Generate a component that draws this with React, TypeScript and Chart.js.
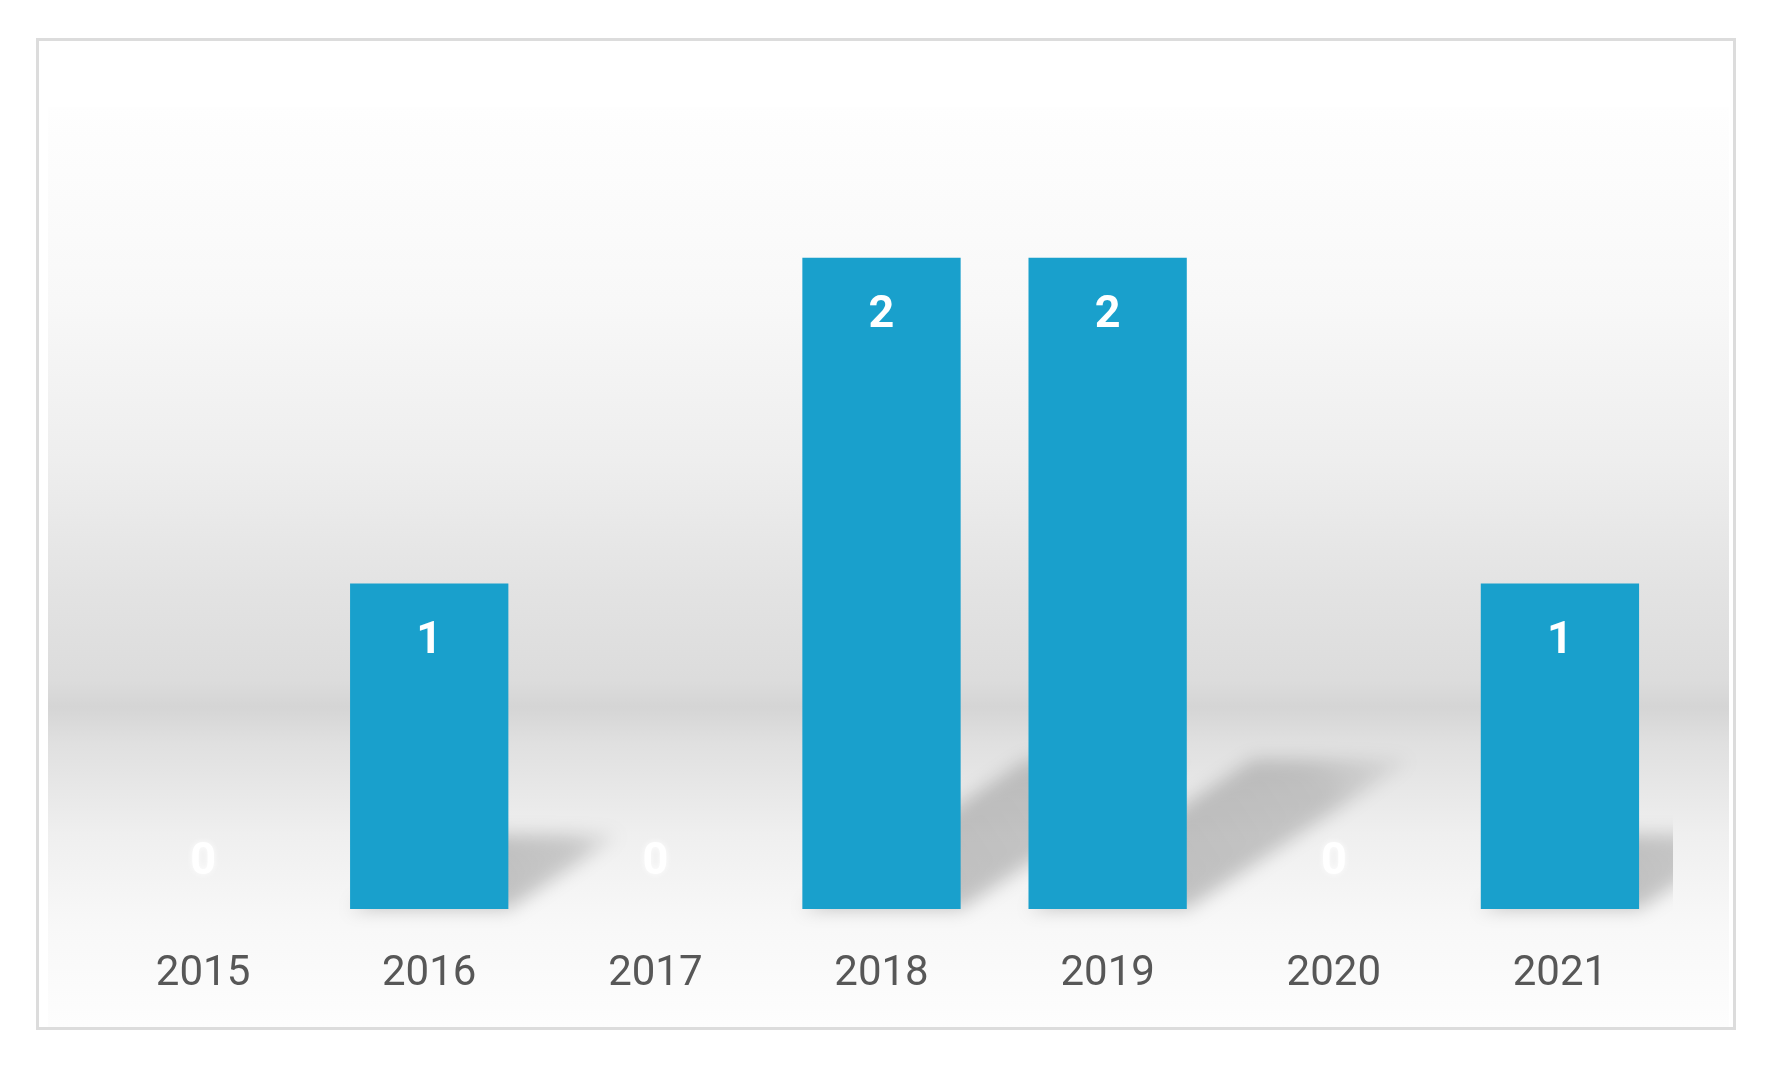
import React, { useEffect, useRef } from "react";
import { Chart, registerables } from "chart.js";

Chart.register(...registerables);

const categories: string[] = ["2015", "2016", "2017", "2018", "2019", "2020", "2021"];
const values: number[] = [0, 1, 0, 2, 2, 0, 1];
const yMin = 0;
const yMax = 2.5;

const BAR_COLOR = "#19a0cc";

const backgroundPlugin = {
  id: "bgGradient",
  beforeDraw(chart: any) {
    const { ctx, width, height } = chart;
    ctx.save();
    ctx.fillStyle = "#ffffff";
    ctx.fillRect(0, 0, width, height);
    const top = 66;
    const bottom = height;
    const g = ctx.createLinearGradient(0, top, 0, bottom);
    g.addColorStop(0, "#fefefe");
    g.addColorStop(0.21, "#f8f8f8");
    g.addColorStop(0.383, "#eeeeee");
    g.addColorStop(0.521, "#e3e3e3");
    g.addColorStop(0.623, "#dcdcdc");
    g.addColorStop(0.652, "#d5d5d5");
    g.addColorStop(0.692, "#e0e0e0");
    g.addColorStop(0.79, "#efefef");
    g.addColorStop(0.89, "#f8f8f8");
    g.addColorStop(1, "#fdfdfd");
    ctx.fillStyle = g;
    ctx.fillRect(9, top, width - 13, bottom - top);
    ctx.restore();
  },
};

const shadowPlugin = {
  id: "barShadows",
  beforeDatasetsDraw(chart: any) {
    const { ctx, chartArea } = chart;
    const meta = chart.getDatasetMeta(0);
    const yScale = chart.scales.y;
    const base = yScale.getPixelForValue(0);
    ctx.save();
    ctx.beginPath();
    ctx.rect(chartArea.left, 0, chartArea.right - chartArea.left, chart.height);
    ctx.clip();
    ctx.filter = "blur(9px)";
    meta.data.forEach((bar: any, i: number) => {
      if (!values[i]) return;
      const props = bar.getProps(["x", "y", "width"], true);
      const left = props.x - props.width / 2;
      const right = props.x + props.width / 2;
      const h = base - props.y;
      const dx = h * 0.345;
      const dy = h * 0.23;
      const g = ctx.createLinearGradient(right, base, right + dx, base - dy);
      g.addColorStop(0, "rgba(0,0,0,0.21)");
      g.addColorStop(0.65, "rgba(0,0,0,0.17)");
      g.addColorStop(1, "rgba(0,0,0,0.04)");
      ctx.fillStyle = g;
      ctx.beginPath();
      ctx.moveTo(left, base);
      ctx.lineTo(right, base);
      ctx.lineTo(right + dx, base - dy);
      ctx.lineTo(left + dx, base - dy);
      ctx.closePath();
      ctx.fill();
    });
    ctx.restore();
  },
};

const labelPlugin = {
  id: "barLabels",
  afterDatasetsDraw(chart: any) {
    const { ctx } = chart;
    const meta = chart.getDatasetMeta(0);
    const base = chart.scales.y.getPixelForValue(0);
    ctx.save();
    ctx.font = "bold 45px Roboto";
    ctx.textAlign = "center";
    ctx.textBaseline = "middle";
    ctx.fillStyle = "#ffffff";
    meta.data.forEach((bar: any, i: number) => {
      const v = values[i];
      const props = bar.getProps(["x", "y"], true);
      if (v > 0) {
        ctx.shadowBlur = 0;
        ctx.fillText(String(v), props.x, props.y + 58);
      } else {
        ctx.shadowColor = "rgba(255,255,255,0.9)";
        ctx.shadowBlur = 6;
        ctx.fillText(String(v), props.x, base - 46);
      }
    });
    ctx.restore();
  },
};

export default function App() {
  const canvasRef = useRef<HTMLCanvasElement | null>(null);

  useEffect(() => {
    const canvas = canvasRef.current;
    if (!canvas) return;
    const chart = new Chart(canvas, {
      type: "bar",
      data: {
        labels: categories,
        datasets: [
          {
            data: values,
            backgroundColor: BAR_COLOR,
            borderWidth: 0,
            barPercentage: 0.7,
            categoryPercentage: 1,
          },
        ],
      },
      options: {
        responsive: false,
        animation: false,
        devicePixelRatio: 1,
        events: [],
        layout: { padding: { left: 51, right: 60, top: 54, bottom: 0 } },
        plugins: {
          legend: { display: false },
          tooltip: { enabled: false },
          title: { display: false },
        },
        scales: {
          x: {
            grid: { display: false, drawTicks: false },
            border: { display: false },
            ticks: {
              color: "#575757",
              font: { family: "Roboto", size: 42 },
              padding: 40,
            },
            afterFit: (scale: any) => {
              scale.height = 118;
            },
          },
          y: {
            display: false,
            min: yMin,
            max: yMax,
          },
        },
      },
      plugins: [backgroundPlugin, shadowPlugin, labelPlugin],
    });
    return () => chart.destroy();
  }, []);

  return (
    <div
      style={{
        position: "fixed",
        left: 36,
        top: 38,
        width: 1700,
        height: 992,
        border: "3px solid #dcdcdc",
        boxSizing: "border-box",
        background: "#ffffff",
      }}
    >
      <canvas
        ref={canvasRef}
        width={1694}
        height={986}
        style={{ display: "block", width: 1694, height: 986 }}
      />
    </div>
  );
}
